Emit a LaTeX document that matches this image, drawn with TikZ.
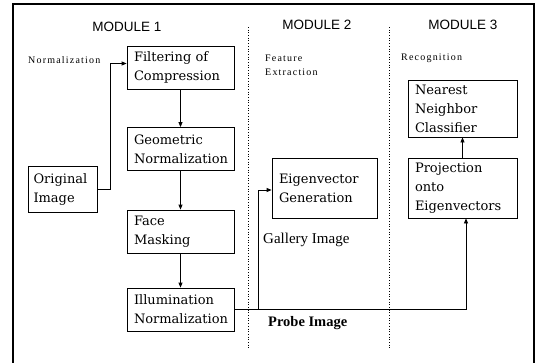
\documentclass[tikz,border=0pt]{standalone}
\usepackage{fontspec}
\setmainfont{DejaVu Serif}
\newfontfamily\modfont{Liberation Sans}
\newfontfamily\notefont[LetterSpace=12]{Liberation Serif}
\newfontfamily\capfont{Liberation Serif}
\usetikzlibrary{arrows.meta}

\begin{document}
\begin{tikzpicture}[x=1bp, y=-1bp,
  stage/.style={rectangle, draw, line width=0.8bp, inner xsep=7bp, inner ysep=0bp,
                minimum width=107bp, minimum height=43bp, text width=93bp, align=left,
                font=\fontsize{13bp}{19bp}\selectfont},
  module/.style={font=\modfont\fontsize{13.5bp}{16bp}\selectfont},
  note/.style={anchor=west, inner sep=0bp, align=left, font=\notefont\fontsize{10bp}{14bp}\selectfont},
  imglabel/.style={anchor=west, inner sep=0bp, font=\capfont\fontsize{15bp}{18bp}\selectfont},
  sep/.style={dotted, line width=0.7bp},
  arrow/.style={-{Triangle[length=5bp, width=4bp]}, line width=0.8bp},
]
\useasboundingbox (0,0) rectangle (537,362);

% outer frame, open at the bottom
\draw[line width=1.5bp] (13,366) -- (13,4) -- (534,4) -- (534,366);

% module separators
\draw[sep] (248,27) -- (248,350);
\draw[sep] (389,27) -- (389,350);

\node[module] (m1) at (127,27) {MODULE 1};
\node[module] (m2) at (317,25) {MODULE 2};
\node[module] (m3) at (463,25) {MODULE 3};

\node[note] (n1) at (28,60) {Normalization};
\node[note] (n2) at (265,65) {Feature\\Extraction};
\node[note] (n3) at (401,58) {Recognition};

% module 1
\node[stage, minimum width=69bp, minimum height=46bp, text width=58bp, inner xsep=5.5bp] (orig) at (62.5,189) {Original\\Image};
\node[stage] (filt)  at (180.5,67.5) {Filtering of\\Compression};
\node[stage] (geom)  at (180.5,149)  {Geometric\\Normalization};
\node[stage] (mask)  at (180.5,231.5) {Face\\Masking};
\node[stage] (illum) at (180.5,309.5) {Illumination\\Normalization};

% module 2
\node[stage, minimum width=105bp, minimum height=60bp, text width=91bp] (eigen) at (324.5,188) {Eigenvector\\Generation};

% module 3
\node[stage, minimum width=109bp, minimum height=57bp, text width=95bp] (near) at (462.5,108.5) {Nearest\\Neighbor\\Classifier};
\node[stage, minimum width=109bp, minimum height=60bp, text width=95bp] (proj) at (462.5,188) {Projection\\onto\\Eigenvectors};

\node[imglabel] (gal) at (263,240) {Gallery Image};
\node[imglabel, font=\capfont\bfseries\fontsize{14.5bp}{18bp}\selectfont] (probe) at (268,323) {Probe Image};

\coordinate (branch) at (258,309.5);

\draw[arrow] (orig.east) -- ++(13,0) |- ([yshift=4bp]filt.west);
\draw[arrow] (filt) -- (geom);
\draw[arrow] (geom) -- (mask);
\draw[arrow] (mask) -- (illum);
\draw[arrow] (branch) |- ([yshift=-2bp]eigen.west);
\draw[arrow] (illum.east) -| ([xshift=3.5bp]proj.south);
\draw[arrow] (proj) -- (near);

\end{tikzpicture}
\end{document}
